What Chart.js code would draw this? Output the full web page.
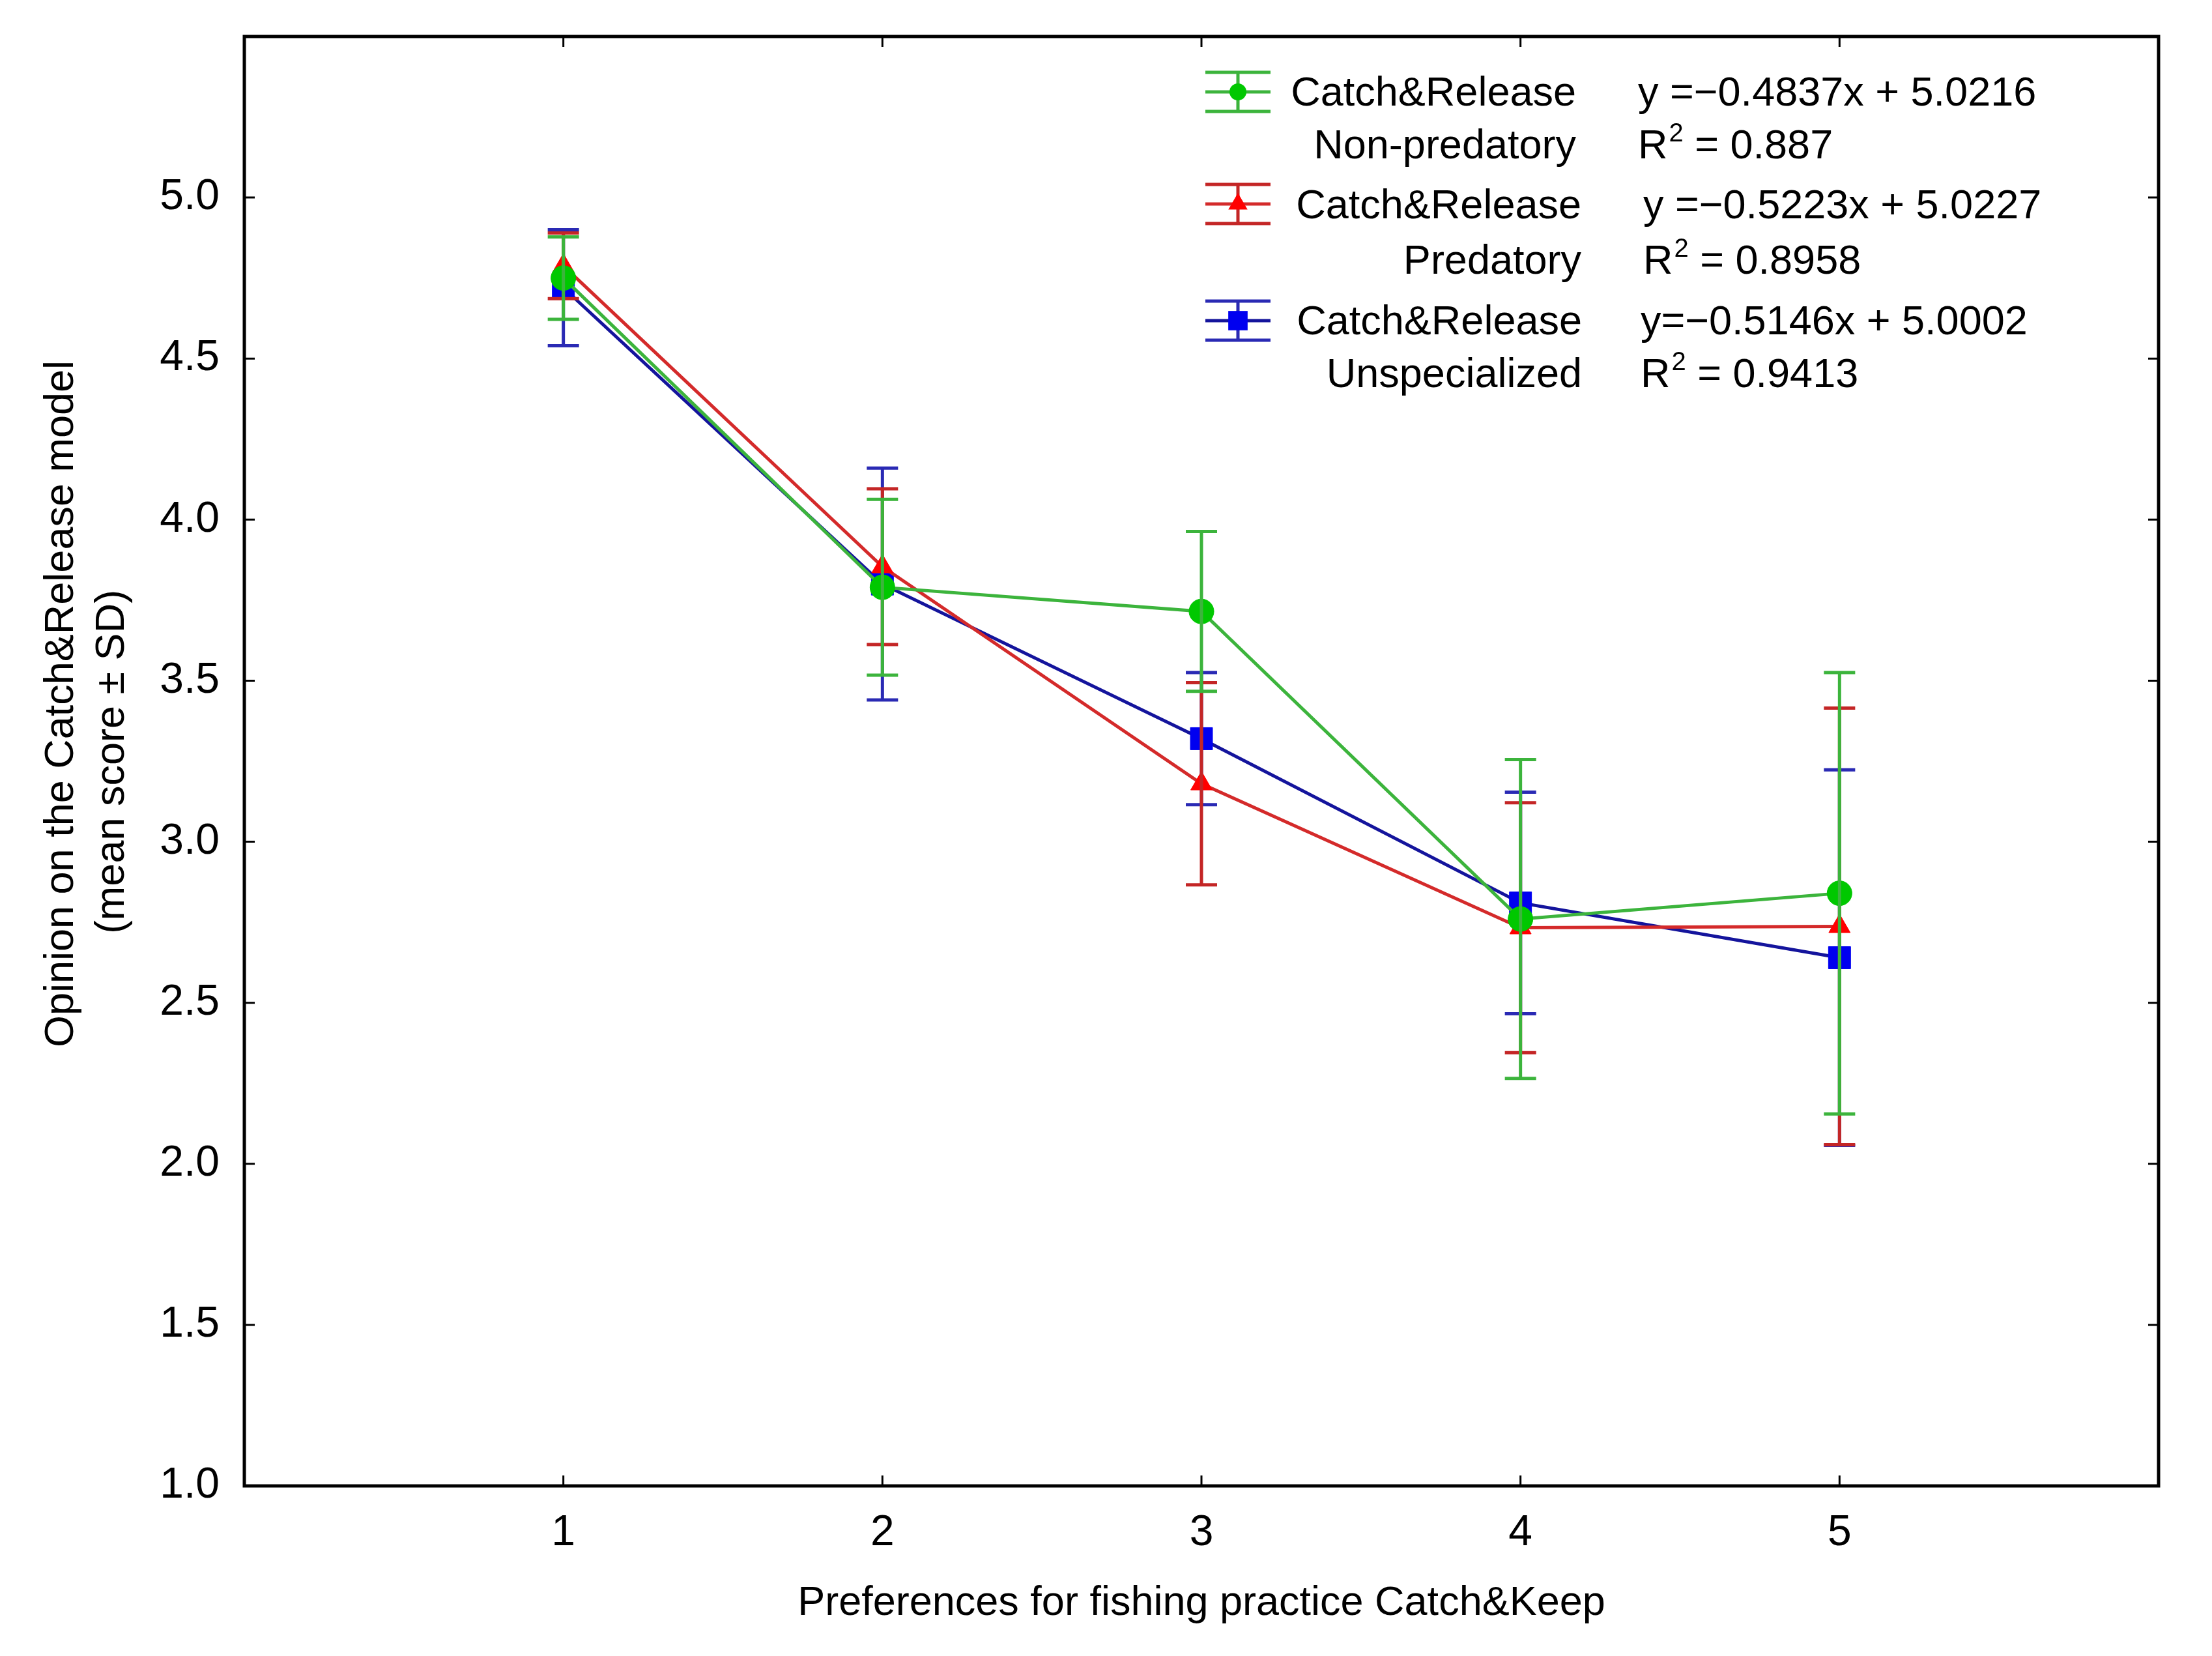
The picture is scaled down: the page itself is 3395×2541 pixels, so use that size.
<!DOCTYPE html>
<html>
<head>
<meta charset="utf-8">
<script src="https://cdn.jsdelivr.net/npm/chart.js@4/dist/chart.umd.min.js"></script>
<style>
html,body{margin:0;padding:0;background:#fff;}
canvas{display:block;}
</style>
</head>
<body>
<canvas id="c" width="3395" height="2541"></canvas>
<script>
// ---------- DATA ----------
const xValues = [1, 2, 3, 4, 5];
const xTickLabels = ['1', '2', '3', '4', '5'];
const yTickValues = [1.0, 1.5, 2.0, 2.5, 3.0, 3.5, 4.0, 4.5, 5.0];
const yTickLabels = ['1.0', '1.5', '2.0', '2.5', '3.0', '3.5', '4.0', '4.5', '5.0'];

const nonPredatoryMean = [4.75, 3.79, 3.715, 2.76, 2.84];
const nonPredatorySD   = [0.128, 0.273, 0.248, 0.495, 0.685];
const predatoryMean    = [4.788, 3.854, 3.18, 2.733, 2.737];
const predatorySD      = [0.102, 0.242, 0.314, 0.388, 0.678];
const unspecMean       = [4.72, 3.80, 3.32, 2.81, 2.64];
const unspecSD         = [0.18, 0.36, 0.205, 0.344, 0.583];

const seriesTitle = ['Catch&Release', 'Catch&Release', 'Catch&Release'];
const seriesSub = ['Non-predatory', 'Predatory', 'Unspecialized'];
const equations = ['y =\u22120.4837x + 5.0216', 'y =\u22120.5223x + 5.0227', 'y=\u22120.5146x + 5.0002'];
const r2Values = ['0.887', '0.8958', '0.9413'];

const xTitle = 'Preferences for fishing practice Catch&Keep';
const yTitleLines = ['Opinion on the Catch&Release model', '(mean score \u00B1 SD)'];

// ---------- STYLE ----------
const FONT = '"Liberation Sans", Arial, Helvetica, sans-serif';
const styles = [
  { line: '#3cb43c', err: '#3cb43c', marker: '#00c800', shape: 'circle', r: 19, lr: 13 },
  { line: '#d42a2a', err: '#c42626', marker: '#ff0000', shape: 'triangle', r: 19, lr: 17 },
  { line: '#14149c', err: '#2a2ab4', marker: '#0000f0', shape: 'rect', r: 24, lr: 21 }
];
const means = [nonPredatoryMean, predatoryMean, unspecMean];
const sds = [nonPredatorySD, predatorySD, unspecSD];

const datasets = means.map((m, i) => ({
  label: seriesTitle[i] + ' ' + seriesSub[i],
  data: xValues.map((x, j) => ({ x: x, y: m[j] })),
  errorBars: sds[i],
  borderColor: styles[i].line,
  backgroundColor: styles[i].marker,
  pointBackgroundColor: styles[i].marker,
  pointBorderColor: styles[i].marker,
  pointBorderWidth: 1,
  pointStyle: styles[i].shape,
  pointRadius: styles[i].r,
  borderWidth: 5,
  tension: 0,
  fill: false,
  errColor: styles[i].err
}));

const bgPlugin = {
  id: 'bg',
  beforeDraw(chart) {
    const ctx = chart.ctx;
    ctx.save();
    ctx.fillStyle = '#fff';
    ctx.fillRect(0, 0, chart.width, chart.height);
    ctx.restore();
  }
};

const framePlugin = {
  id: 'frame',
  beforeDatasetsDraw(chart) {
    const ctx = chart.ctx;
    const a = chart.chartArea;
    const xs = chart.scales.x, ys = chart.scales.y;
    ctx.save();
    ctx.strokeStyle = '#000';
    ctx.lineWidth = 3;
    ctx.beginPath();
    xValues.forEach(v => {
      const px = xs.getPixelForValue(v);
      ctx.moveTo(px, a.bottom); ctx.lineTo(px, a.bottom - 16);
      ctx.moveTo(px, a.top); ctx.lineTo(px, a.top + 16);
    });
    yTickValues.forEach(v => {
      const py = ys.getPixelForValue(v);
      ctx.moveTo(a.left, py); ctx.lineTo(a.left + 16, py);
      ctx.moveTo(a.right, py); ctx.lineTo(a.right - 16, py);
    });
    ctx.stroke();
    ctx.lineWidth = 5;
    ctx.strokeRect(a.left, a.top, a.right - a.left, a.bottom - a.top);
    ctx.restore();
  }
};

const errorPlugin = {
  id: 'errorBars',
  afterDatasetDraw(chart, args) {
    const ds = chart.data.datasets[args.index];
    if (!ds.errorBars) return;
    const ctx = chart.ctx;
    const xs = chart.scales.x, ys = chart.scales.y;
    ctx.save();
    ctx.strokeStyle = ds.errColor;
    ctx.lineWidth = 5;
    ctx.lineCap = 'butt';
    ds.data.forEach((p, j) => {
      const sd = ds.errorBars[j];
      const px = xs.getPixelForValue(p.x);
      const yt = ys.getPixelForValue(p.y + sd);
      const yb = ys.getPixelForValue(p.y - sd);
      ctx.beginPath();
      ctx.moveTo(px, yt); ctx.lineTo(px, yb);
      ctx.moveTo(px - 24, yt); ctx.lineTo(px + 24, yt);
      ctx.moveTo(px - 24, yb); ctx.lineTo(px + 24, yb);
      ctx.stroke();
    });
    ctx.restore();
  }
};

const yTitlePlugin = {
  id: 'yTitle',
  afterDraw(chart) {
    const ctx = chart.ctx;
    const pos = [[112, 1080], [190, 1169]];
    ctx.save();
    ctx.fillStyle = '#000';
    ctx.font = '63px ' + FONT;
    ctx.textAlign = 'center';
    ctx.textBaseline = 'alphabetic';
    yTitleLines.forEach((t, i) => {
      ctx.save();
      ctx.translate(pos[i][0], pos[i][1]);
      ctx.rotate(-Math.PI / 2);
      ctx.fillText(t, 0, 0);
      ctx.restore();
    });
    ctx.restore();
  }
};

function drawMarker(ctx, shape, x, y, r, color) {
  ctx.fillStyle = color;
  ctx.beginPath();
  if (shape === 'circle') {
    ctx.arc(x, y, r, 0, Math.PI * 2);
  } else if (shape === 'triangle') {
    const w = r * Math.sqrt(3) / 2;
    ctx.moveTo(x, y - r);
    ctx.lineTo(x + w, y + r / 2);
    ctx.lineTo(x - w, y + r / 2);
    ctx.closePath();
  } else {
    const s = r * Math.SQRT1_2;
    ctx.rect(x - s, y - s, 2 * s, 2 * s);
  }
  ctx.fill();
}

const legendPlugin = {
  id: 'customLegend',
  afterDraw(chart) {
    const ctx = chart.ctx;
    const symX = 1900;
    const symY = [141, 313, 492];
    const titleBase = [162, 335, 513];
    const subBase = [243, 420, 594];
    const textRight = [2419, 2427, 2428];
    const eqX = [2514, 2522, 2518];
    ctx.save();
    for (let i = 0; i < 3; i++) {
      const st = styles[i];
      const cy = symY[i];
      ctx.lineWidth = 5;
      ctx.strokeStyle = st.err;
      ctx.beginPath();
      ctx.moveTo(symX - 50, cy - 30); ctx.lineTo(symX + 50, cy - 30);
      ctx.moveTo(symX - 50, cy + 30); ctx.lineTo(symX + 50, cy + 30);
      ctx.moveTo(symX, cy - 30); ctx.lineTo(symX, cy + 30);
      ctx.stroke();
      ctx.strokeStyle = st.line;
      ctx.lineWidth = 5;
      ctx.beginPath();
      ctx.moveTo(symX - 50, cy); ctx.lineTo(symX + 50, cy);
      ctx.stroke();
      drawMarker(ctx, st.shape, symX, cy, st.lr, st.marker);
      ctx.fillStyle = '#000';
      ctx.font = '63px ' + FONT;
      ctx.textBaseline = 'alphabetic';
      ctx.textAlign = 'right';
      ctx.fillText(seriesTitle[i], textRight[i], titleBase[i]);
      ctx.fillText(seriesSub[i], textRight[i], subBase[i]);
      ctx.textAlign = 'left';
      ctx.fillText(equations[i], eqX[i], titleBase[i]);
      let x = eqX[i];
      ctx.fillText('R', x, subBase[i]);
      x += ctx.measureText('R').width + 2;
      ctx.font = '40px ' + FONT;
      ctx.fillText('2', x, subBase[i] - 26);
      x += ctx.measureText('2').width;
      ctx.font = '63px ' + FONT;
      ctx.fillText(' = ' + r2Values[i], x, subBase[i]);
    }
    ctx.restore();
  }
};

new Chart(document.getElementById('c'), {
  type: 'line',
  data: { datasets: datasets },
  options: {
    responsive: false,
    animation: false,
    devicePixelRatio: 1,
    layout: { padding: { top: 56, right: 82, left: 0, bottom: 0 } },
    plugins: { legend: { display: false }, tooltip: { enabled: false } },
    scales: {
      x: {
        type: 'linear',
        min: 0, max: 6,
        afterBuildTicks(s) { s.ticks = xValues.map(v => ({ value: v })); },
        afterFit(s) { s.height = 261; s.paddingLeft = 0; s.paddingRight = 0; },
        grid: { display: false, drawTicks: false },
        border: { display: false },
        ticks: {
          padding: 33, color: '#000',
          font: { family: FONT, size: 66 },
          callback: (v, i) => xTickLabels[i]
        },
        title: {
          display: true, text: xTitle, color: '#000',
          font: { family: FONT, size: 63 },
          padding: { top: 0, bottom: 43 }
        }
      },
      y: {
        type: 'linear',
        min: 1.0, max: 5.5,
        afterBuildTicks(s) { s.ticks = yTickValues.map(v => ({ value: v })); },
        afterFit(s) { s.width = 375; s.paddingTop = 0; s.paddingBottom = 0; },
        grid: { display: false, drawTicks: false },
        border: { display: false },
        ticks: {
          padding: 38, color: '#000',
          font: { family: FONT, size: 66 },
          callback: (v, i) => yTickLabels[i]
        },
        title: { display: false }
      }
    }
  },
  plugins: [bgPlugin, framePlugin, errorPlugin, yTitlePlugin, legendPlugin]
});
</script>
</body>
</html>
